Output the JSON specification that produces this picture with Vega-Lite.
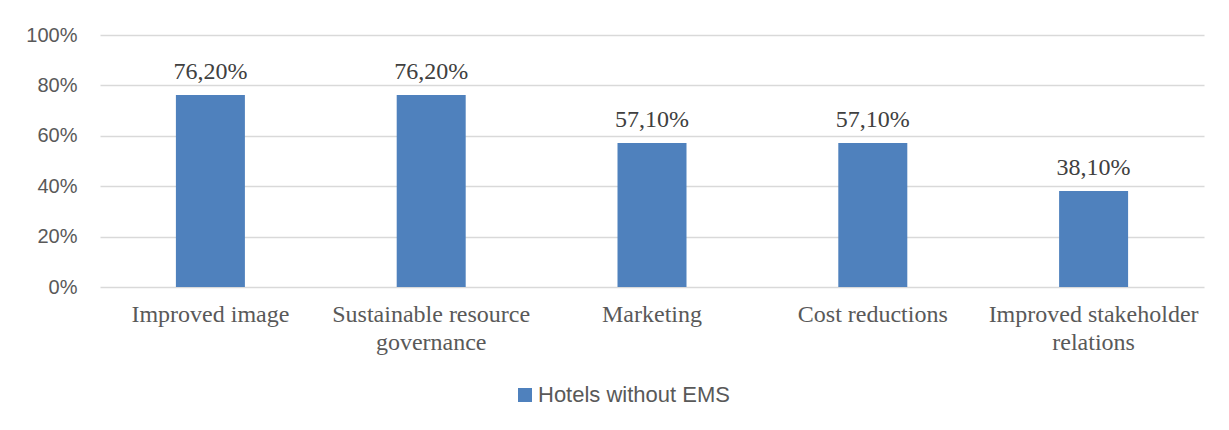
{
  "$schema": "https://vega.github.io/schema/vega-lite/v6.json",
  "width": 1104,
  "height": 252,
  "autosize": {"type": "none"},
  "padding": {"left": 100, "top": 35, "right": 25, "bottom": 143},
  "background": "white",
  "config": {
    "view": {"stroke": null},
    "axis": {"labelColor": "#595959", "gridColor": "#d9d9d9", "gridWidth": 1.3, "domainColor": "#d9d9d9", "ticks": false, "title": null, "labelOverlap": false}
  },
  "data": {
    "values": [
      {"category": "Improved image", "value": 0.762, "label": "76,20%", "series": "Hotels without EMS"},
      {"category": "Sustainable resource governance", "value": 0.762, "label": "76,20%", "series": "Hotels without EMS"},
      {"category": "Marketing", "value": 0.571, "label": "57,10%", "series": "Hotels without EMS"},
      {"category": "Cost reductions", "value": 0.571, "label": "57,10%", "series": "Hotels without EMS"},
      {"category": "Improved stakeholder relations", "value": 0.381, "label": "38,10%", "series": "Hotels without EMS"}
    ]
  },
  "encoding": {
    "x": {
      "field": "category", "type": "nominal", "sort": null,
      "scale": {"paddingInner": 0.6875, "paddingOuter": 0.34375},
      "axis": {
        "labelAngle": 0, "labelFont": "Liberation Serif", "labelFontSize": 24, "labelPadding": 15,
        "labelLineHeight": 28, "labelLimit": 0, "domain": false, "grid": false,
        "labelExpr": "datum.label == 'Sustainable resource governance' ? ['Sustainable resource', 'governance'] : datum.label == 'Improved stakeholder relations' ? ['Improved stakeholder', 'relations'] : datum.label"
      }
    },
    "y": {
      "field": "value", "type": "quantitative",
      "scale": {"domain": [0, 1], "nice": false},
      "axis": {"format": ".0%", "values": [0, 0.2, 0.4, 0.6, 0.8, 1], "labelFont": "Liberation Sans", "labelFontSize": 20, "labelPadding": 23, "domain": false, "grid": true}
    }
  },
  "layer": [
    {
      "mark": {"type": "bar"},
      "encoding": {
        "color": {
          "field": "series", "type": "nominal",
          "scale": {"range": ["#4f81bd"]},
          "legend": {
            "title": null, "orient": "none", "legendX": 414, "legendY": 349,
            "symbolType": "square", "symbolSize": 196, "symbolStrokeWidth": 0, "symbolOpacity": 1,
            "labelFont": "Liberation Sans", "labelFontSize": 22, "labelColor": "#595959", "labelOffset": 2, "labelLimit": 0
          }
        }
      }
    },
    {
      "mark": {"type": "text", "baseline": "bottom", "dy": -11, "font": "Liberation Serif", "fontSize": 24, "color": "#404040"},
      "encoding": {
        "text": {"field": "label"}
      }
    }
  ]
}
